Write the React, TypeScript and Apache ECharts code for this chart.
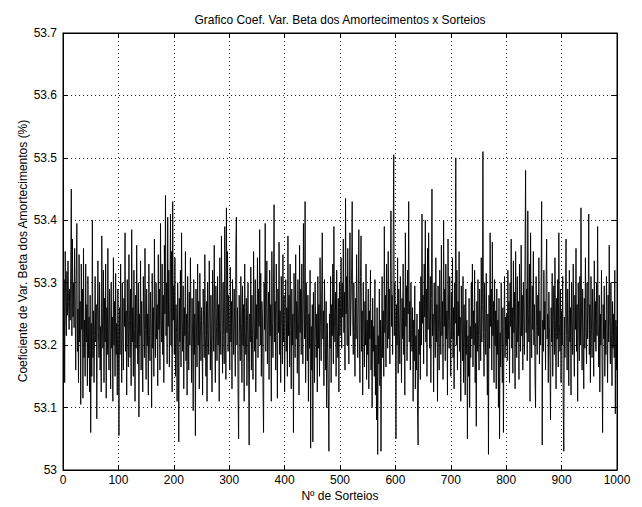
import React, { useEffect, useRef } from "react";
import * as echarts from "echarts";

const chartTitle = "Grafico Coef. Var. Beta dos Amortecimentos x Sorteios";
const xAxisTitle = "Nº de Sorteios";
const yAxisTitle = "Coeficiente de Var. Beta dos Amortecimentos (%)";

const xTicks = [0, 100, 200, 300, 400, 500, 600, 700, 800, 900, 1000];
const yTicks = [53, 53.1, 53.2, 53.3, 53.4, 53.5, 53.6, 53.7];

// Coef. Var. per sorteio, sorteios 1..250
const coefVar1 = [
  53.190, 53.305, 53.140, 53.350, 53.262, 53.215, 53.318, 53.248, 53.335, 53.270,
  53.225, 53.290, 53.240, 53.330, 53.450, 53.215, 53.370, 53.245, 53.300, 53.228,
  53.355, 53.262, 53.160, 53.310, 53.395, 53.190, 53.258, 53.140, 53.345, 53.205,
  53.270, 53.105, 53.330, 53.225, 53.290, 53.115, 53.355, 53.180, 53.240, 53.150,
  53.330, 53.205, 53.265, 53.135, 53.310, 53.180, 53.245, 53.125, 53.280, 53.060,
  53.235, 53.150, 53.400, 53.180, 53.255, 53.140, 53.215, 53.310, 53.205, 53.265,
  53.082, 53.240, 53.335, 53.220, 53.180, 53.300, 53.160, 53.230, 53.125, 53.375,
  53.250, 53.195, 53.320, 53.140, 53.275, 53.205, 53.330, 53.115, 53.260, 53.185,
  53.355, 53.210, 53.160, 53.290, 53.225, 53.130, 53.300, 53.195, 53.245, 53.110,
  53.340, 53.200, 53.270, 53.150, 53.315, 53.185, 53.235, 53.120, 53.290, 53.215,
  53.055, 53.260, 53.185, 53.330, 53.225, 53.140, 53.300, 53.210, 53.160, 53.275,
  53.230, 53.380, 53.190, 53.255, 53.120, 53.305, 53.215, 53.165, 53.345, 53.240,
  53.180, 53.290, 53.135, 53.385, 53.205, 53.260, 53.150, 53.320, 53.225, 53.110,
  53.280, 53.195, 53.360, 53.240, 53.170, 53.300, 53.085, 53.250, 53.215, 53.335,
  53.160, 53.270, 53.205, 53.125, 53.310, 53.240, 53.180, 53.355, 53.225, 53.145,
  53.290, 53.200, 53.250, 53.120, 53.330, 53.215, 53.175, 53.285, 53.230, 53.100,
  53.315, 53.195, 53.260, 53.150, 53.370, 53.235, 53.180, 53.300, 53.210, 53.265,
  53.135, 53.345, 53.225, 53.290, 53.160, 53.395, 53.240, 53.205, 53.330, 53.185,
  53.280, 53.140, 53.360, 53.250, 53.440, 53.215, 53.300, 53.170, 53.405, 53.230,
  53.320, 53.165, 53.270, 53.410, 53.200, 53.350, 53.125, 53.430, 53.240, 53.295,
  53.185, 53.340, 53.150, 53.265, 53.220, 53.110, 53.300, 53.230, 53.045, 53.275,
  53.205, 53.320, 53.165, 53.380, 53.240, 53.190, 53.295, 53.130, 53.260, 53.215,
  53.350, 53.175, 53.250, 53.120, 53.310, 53.225, 53.160, 53.285, 53.200, 53.340,
  53.235, 53.140, 53.275, 53.210, 53.095, 53.305, 53.185, 53.250, 53.055, 53.290,
  53.220, 53.165, 53.330, 53.200, 53.270, 53.130, 53.315, 53.240, 53.175, 53.260,
];

// sorteios 251..500
const coefVar2 = [
  53.205, 53.120, 53.290, 53.230, 53.180, 53.345, 53.215, 53.150, 53.270, 53.110,
  53.300, 53.225, 53.185, 53.335, 53.240, 53.160, 53.280, 53.205, 53.125, 53.320,
  53.250, 53.190, 53.360, 53.215, 53.140, 53.295, 53.230, 53.175, 53.310, 53.200,
  53.265, 53.110, 53.340, 53.225, 53.185, 53.375, 53.240, 53.155, 53.300, 53.215,
  53.170, 53.390, 53.250, 53.145, 53.420, 53.220, 53.350, 53.190, 53.280, 53.235,
  53.160, 53.325, 53.205, 53.270, 53.130, 53.305, 53.240, 53.185, 53.290, 53.225,
  53.150, 53.360, 53.405, 53.200, 53.260, 53.120, 53.050, 53.280, 53.215, 53.175,
  53.310, 53.235, 53.140, 53.295, 53.200, 53.265, 53.110, 53.330, 53.220, 53.185,
  53.275, 53.135, 53.240, 53.300, 53.170, 53.040, 53.250, 53.205, 53.325, 53.160,
  53.280, 53.215, 53.145, 53.350, 53.230, 53.190, 53.305, 53.125, 53.265, 53.210,
  53.340, 53.180, 53.290, 53.230, 53.385, 53.200, 53.315, 53.150, 53.270, 53.245,
  53.130, 53.060, 53.300, 53.225, 53.395, 53.190, 53.260, 53.335, 53.170, 53.240,
  53.285, 53.145, 53.320, 53.215, 53.265, 53.110, 53.350, 53.235, 53.180, 53.300,
  53.425, 53.205, 53.270, 53.160, 53.330, 53.240, 53.115, 53.290, 53.220, 53.365,
  53.185, 53.255, 53.140, 53.310, 53.230, 53.170, 53.345, 53.205, 53.280, 53.125,
  53.240, 53.305, 53.190, 53.260, 53.150, 53.375, 53.215, 53.280, 53.165, 53.330,
  53.225, 53.130, 53.290, 53.200, 53.250, 53.060, 53.315, 53.235, 53.180, 53.345,
  53.210, 53.270, 53.155, 53.305, 53.240, 53.120, 53.360, 53.220, 53.290, 53.185,
  53.330, 53.245, 53.170, 53.395, 53.260, 53.210, 53.430, 53.140, 53.300, 53.225,
  53.175, 53.280, 53.110, 53.250, 53.195, 53.320, 53.035, 53.230, 53.160, 53.265,
  53.045, 53.285, 53.205, 53.140, 53.300, 53.225, 53.180, 53.250, 53.125, 53.310,
  53.195, 53.265, 53.150, 53.340, 53.230, 53.175, 53.290, 53.380, 53.210, 53.255,
  53.135, 53.305, 53.220, 53.160, 53.270, 53.100, 53.235, 53.185, 53.120, 53.030,
  53.250, 53.195, 53.310, 53.140, 53.265, 53.215, 53.330, 53.170, 53.390, 53.240,
  53.205, 53.285, 53.150, 53.320, 53.230, 53.180, 53.275, 53.125, 53.300, 53.215,
];

// sorteios 501..750
const coefVar3 = [
  53.260, 53.340, 53.195, 53.300, 53.245, 53.370, 53.220, 53.285, 53.160, 53.435,
  53.250, 53.310, 53.200, 53.355, 53.230, 53.170, 53.290, 53.380, 53.215, 53.265,
  53.325, 53.430, 53.240, 53.185, 53.300, 53.220, 53.150, 53.275, 53.210, 53.345,
  53.235, 53.180, 53.280, 53.385, 53.205, 53.140, 53.310, 53.375, 53.190, 53.255,
  53.120, 53.300, 53.225, 53.165, 53.270, 53.200, 53.330, 53.145, 53.240, 53.185,
  53.290, 53.130, 53.255, 53.210, 53.320, 53.160, 53.240, 53.100, 53.275, 53.190,
  53.230, 53.150, 53.305, 53.120, 53.200, 53.080, 53.260, 53.025, 53.215, 53.170,
  53.290, 53.135, 53.240, 53.030, 53.200, 53.310, 53.180, 53.255, 53.150, 53.390,
  53.220, 53.280, 53.165, 53.330, 53.240, 53.195, 53.350, 53.210, 53.290, 53.170,
  53.320, 53.415, 53.230, 53.280, 53.185, 53.360, 53.505, 53.215, 53.300, 53.240,
  53.050, 53.265, 53.200, 53.340, 53.155, 53.290, 53.225, 53.170, 53.310, 53.245,
  53.140, 53.275, 53.210, 53.330, 53.185, 53.260, 53.120, 53.380, 53.230, 53.295,
  53.175, 53.320, 53.250, 53.430, 53.205, 53.270, 53.160, 53.300, 53.225, 53.190,
  53.260, 53.110, 53.240, 53.175, 53.295, 53.130, 53.215, 53.160, 53.250, 53.090,
  53.040, 53.225, 53.185, 53.270, 53.145, 53.310, 53.200, 53.410, 53.235, 53.280,
  53.170, 53.330, 53.245, 53.400, 53.205, 53.290, 53.150, 53.355, 53.225, 53.380,
  53.260, 53.195, 53.310, 53.140, 53.275, 53.450, 53.215, 53.250, 53.125, 53.300,
  53.230, 53.180, 53.340, 53.205, 53.265, 53.110, 53.295, 53.220, 53.160, 53.320,
  53.240, 53.185, 53.360, 53.215, 53.270, 53.145, 53.400, 53.230, 53.290, 53.175,
  53.330, 53.210, 53.255, 53.120, 53.370, 53.240, 53.195, 53.310, 53.225, 53.150,
  53.285, 53.210, 53.340, 53.180, 53.260, 53.130, 53.300, 53.235, 53.500, 53.200,
  53.320, 53.160, 53.270, 53.215, 53.350, 53.190, 53.245, 53.110, 53.295, 53.230,
  53.175, 53.310, 53.140, 53.265, 53.205, 53.120, 53.290, 53.185, 53.240, 53.050,
  53.215, 53.150, 53.275, 53.100, 53.230, 53.180, 53.300, 53.210, 53.330, 53.165,
  53.255, 53.200, 53.320, 53.140, 53.235, 53.070, 53.270, 53.190, 53.305, 53.215,
];

// sorteios 751..1000
const coefVar4 = [
  53.160, 53.290, 53.230, 53.175, 53.340, 53.205, 53.265, 53.510, 53.220, 53.150,
  53.300, 53.240, 53.185, 53.315, 53.210, 53.120, 53.250, 53.025, 53.280, 53.195,
  53.380, 53.230, 53.290, 53.160, 53.365, 53.215, 53.270, 53.140, 53.305, 53.200,
  53.255, 53.130, 53.290, 53.185, 53.240, 53.100, 53.275, 53.050, 53.220, 53.165,
  53.300, 53.205, 53.140, 53.260, 53.060, 53.230, 53.310, 53.180, 53.245, 53.200,
  53.250, 53.175, 53.320, 53.210, 53.270, 53.140, 53.300, 53.230, 53.370, 53.195,
  53.260, 53.155, 53.335, 53.220, 53.285, 53.130, 53.350, 53.240, 53.180, 53.310,
  53.205, 53.270, 53.145, 53.330, 53.235, 53.190, 53.360, 53.215, 53.280, 53.160,
  53.300, 53.240, 53.185, 53.345, 53.480, 53.220, 53.290, 53.175, 53.415, 53.250,
  53.205, 53.330, 53.110, 53.380, 53.235, 53.180, 53.295, 53.225, 53.350, 53.200,
  53.265, 53.150, 53.100, 53.310, 53.230, 53.185, 53.280, 53.215, 53.340, 53.170,
  53.255, 53.200, 53.300, 53.430, 53.040, 53.240, 53.190, 53.320, 53.225, 53.270,
  53.160, 53.300, 53.370, 53.210, 53.250, 53.140, 53.285, 53.230, 53.175, 53.080,
  53.260, 53.205, 53.315, 53.150, 53.240, 53.295, 53.185, 53.340, 53.220, 53.130,
  53.275, 53.210, 53.305, 53.165, 53.380, 53.235, 53.190, 53.290, 53.140, 53.255,
  53.200, 53.310, 53.100, 53.030, 53.245, 53.180, 53.275, 53.370, 53.215, 53.160,
  53.290, 53.230, 53.135, 53.320, 53.205, 53.260, 53.120, 53.300, 53.240, 53.185,
  53.330, 53.215, 53.150, 53.280, 53.225, 53.355, 53.190, 53.265, 53.110, 53.300,
  53.235, 53.175, 53.310, 53.200, 53.420, 53.245, 53.160, 53.290, 53.215, 53.130,
  53.275, 53.195, 53.340, 53.230, 53.170, 53.300, 53.210, 53.255, 53.410, 53.185,
  53.265, 53.140, 53.310, 53.225, 53.180, 53.290, 53.240, 53.150, 53.335, 53.205,
  53.270, 53.190, 53.300, 53.215, 53.390, 53.235, 53.165, 53.280, 53.125, 53.250,
  53.200, 53.320, 53.175, 53.060, 53.265, 53.210, 53.295, 53.150, 53.240, 53.185,
  53.310, 53.225, 53.140, 53.280, 53.205, 53.360, 53.230, 53.170, 53.300, 53.215,
  53.135, 53.270, 53.195, 53.250, 53.180, 53.320, 53.090, 53.240, 53.160, 53.230,
];

const FONT = '"Liberation Sans", Arial, Helvetica, sans-serif';

export default function App() {
  const ref = useRef<HTMLDivElement>(null);

  useEffect(() => {
    if (!ref.current) return;
    const chart = echarts.init(ref.current, null, { renderer: "svg" });
    const values = [...coefVar1, ...coefVar2, ...coefVar3, ...coefVar4];
    const data = values.map((v, i) => [i + 1, v]);
    const xMin = xTicks[0];
    const xMax = xTicks[xTicks.length - 1];
    const yMin = yTicks[0];
    const yMax = yTicks[yTicks.length - 1];

    const gridLine = { show: true, lineStyle: { color: "#222", type: [1, 3] as any, width: 1 } };
    const tick = { show: true, inside: true, length: 5, lineStyle: { color: "#000", width: 1 } };
    const line = { show: true, onZero: false, lineStyle: { color: "#000", width: 1 } };

    chart.setOption({
      animation: false,
      backgroundColor: "#fff",
      grid: { left: 63, top: 33, right: 25, bottom: 37, show: true, borderColor: "#000", borderWidth: 1, backgroundColor: "#fff" },
      xAxis: [
        {
          type: "value", min: xMin, max: xMax, interval: 100, position: "bottom",
          axisLine: line, axisTick: tick, splitLine: gridLine,
          axisLabel: {
            color: "#000", fontSize: 12, fontFamily: FONT, margin: 4,
            formatter: (v: number) => String(Math.round(v)),
          },
        },
        {
          type: "value", min: xMin, max: xMax, interval: 100, position: "top",
          axisLine: line, axisTick: tick, splitLine: { show: false }, axisLabel: { show: false },
        },
      ],
      yAxis: [
        {
          type: "value", min: yMin, max: yMax, interval: 0.1, position: "left",
          axisLine: line, axisTick: tick, splitLine: gridLine,
          axisLabel: {
            color: "#000", fontSize: 12, fontFamily: FONT, margin: 6,
            formatter: (v: number) => String(Math.round(v * 10) / 10),
          },
        },
        {
          type: "value", min: yMin, max: yMax, interval: 0.1, position: "right",
          axisLine: line, axisTick: tick, splitLine: { show: false }, axisLabel: { show: false },
        },
      ],
      series: [
        {
          type: "line",
          xAxisIndex: 0,
          yAxisIndex: 0,
          data,
          showSymbol: false,
          symbol: "none",
          silent: true,
          lineStyle: { color: "#000", width: 0.9 },
        },
      ],
      graphic: [
        {
          type: "text", x: 340, y: 20,
          style: { text: chartTitle, fill: "#000", font: `12px ${FONT}`, textAlign: "center", textVerticalAlign: "middle", align: "center", verticalAlign: "middle" },
        },
        {
          type: "text", x: 340, y: 496,
          style: { text: xAxisTitle, fill: "#000", font: `12px ${FONT}`, textAlign: "center", textVerticalAlign: "middle", align: "center", verticalAlign: "middle" },
        },
        {
          type: "text", x: 23, y: 251, rotation: Math.PI / 2,
          style: { text: yAxisTitle, fill: "#000", font: `12px ${FONT}`, textAlign: "center", textVerticalAlign: "middle", align: "center", verticalAlign: "middle" },
        },
      ],
    });
    return () => chart.dispose();
  }, []);

  return (
    <div
      ref={ref}
      style={{ position: "fixed", left: 0, top: 0, width: 642, height: 507, background: "#fff" }}
    />
  );
}
